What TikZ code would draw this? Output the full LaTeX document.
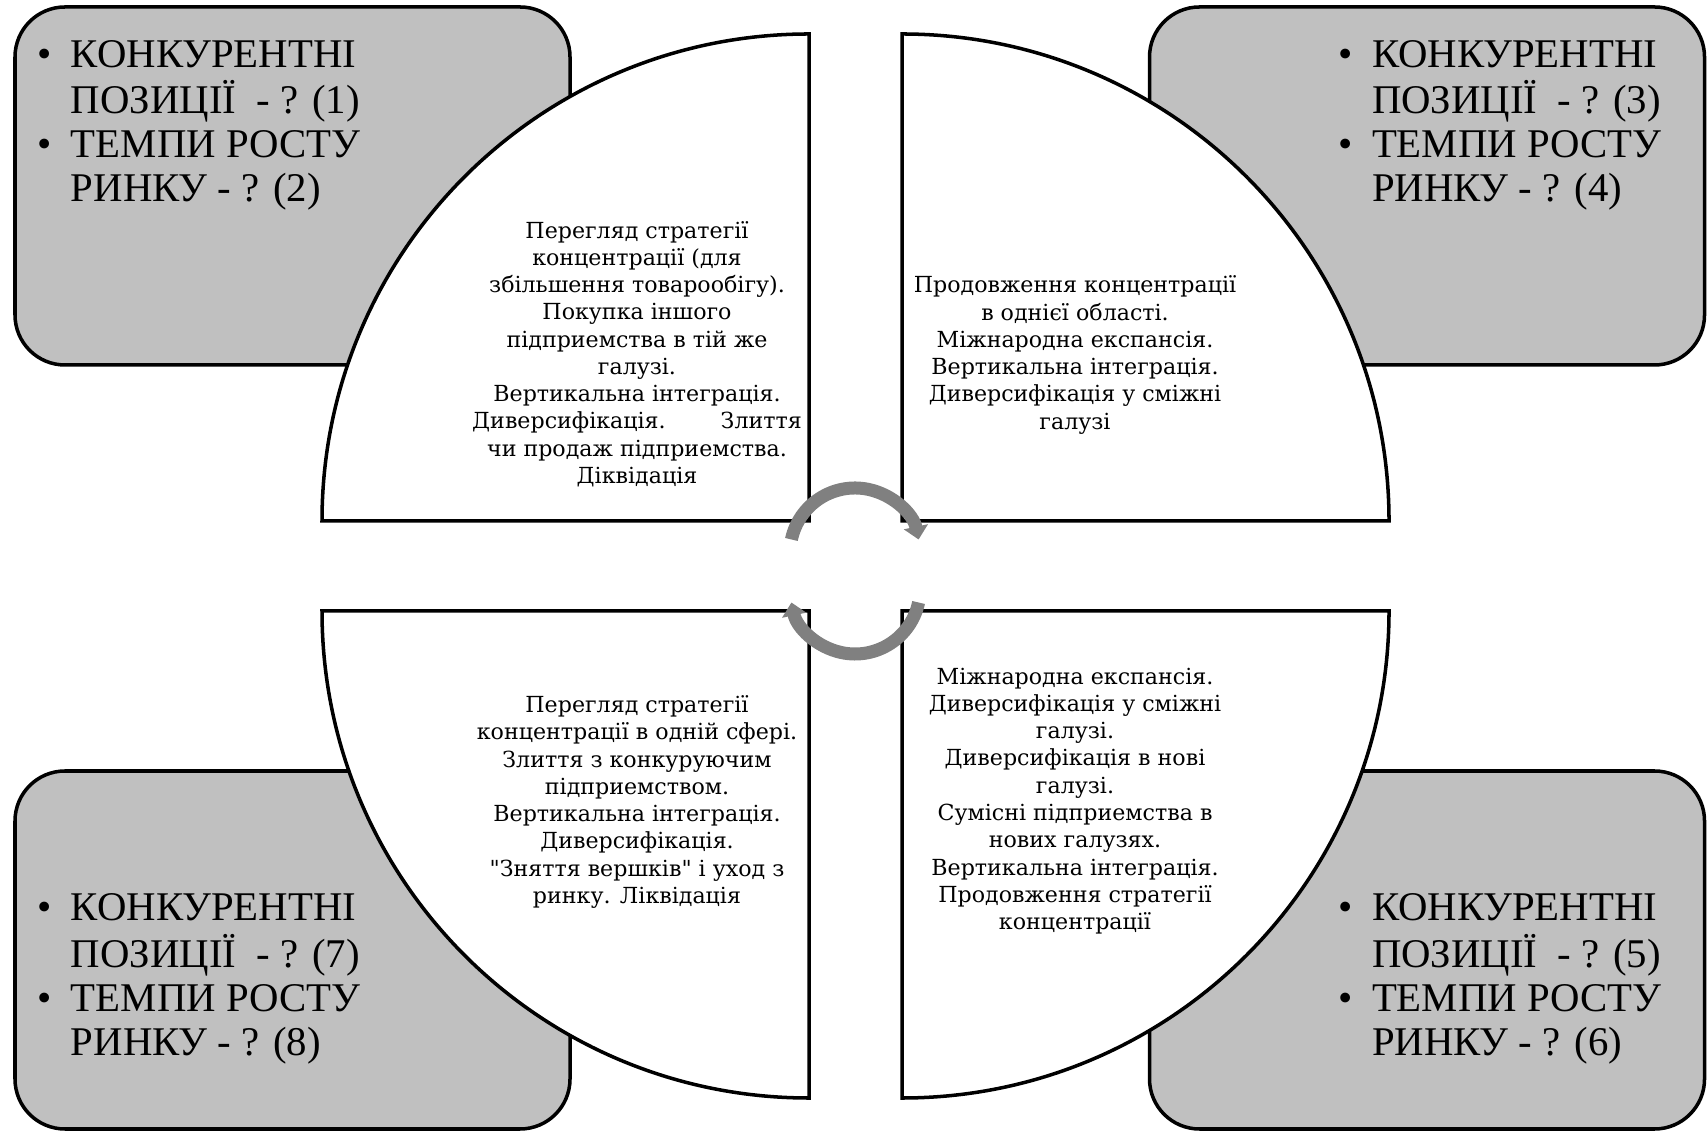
\documentclass[tikz,border=0pt]{standalone}
\usepackage{fontspec}
\setmainfont{Liberation Serif}
\newfontfamily\boxfont{Liberation Serif}
\newfontfamily\cellfont{DejaVu Serif}
\usetikzlibrary{arrows.meta}

\definecolor{boxgray}{RGB}{192,192,192}
\definecolor{arrowgray}{RGB}{128,128,128}

% two bullet lines of a corner box
\newcommand{\qlist}[2]{\begin{tabular}[t]{@{}l@{\hspace{0.19cm}}l@{}}
\textbullet & КОНКУРЕНТНІ\\
 & ПОЗИЦІЇ \ - ? (#1)\\
\textbullet & ТЕМПИ РОСТУ\\
 & РИНКУ - ? (#2)
\end{tabular}}

\tikzset{
  panel/.style={draw=black, line width=1pt, fill=boxgray, rounded corners=0.5cm,
    minimum width=5.55cm, minimum height=3.58cm, inner sep=0pt},
  quest/.style={anchor=base west, inner sep=0pt, font=\boxfont\fontsize{11.6}{12.5}\selectfont},
  cell/.style={draw=black, line width=1pt, fill=white},
  plan/.style={align=center, inner sep=0pt, font=\cellfont\fontsize{6.3}{7.76}\selectfont},
  turn/.style={draw=arrowgray, line width=0.13cm, -{Triangle[width=0.24cm,length=0.13cm]}}
}

\begin{document}
\begin{tikzpicture}
\useasboundingbox (0,0) rectangle (17.07,11.32);

% gray corner boxes
\node[panel] (tlbox) at (2.925,9.46) {};
\node[panel] (trbox) at (14.27,9.46) {};
\node[panel] (blbox) at (2.925,1.82) {};
\node[panel] (brbox) at (14.27,1.82) {};

\node[quest] (tlq) at (0.37,10.645) {\qlist{1}{2}};
\node[quest] (trq) at (13.38,10.645) {\qlist{3}{4}};
\node[quest] (blq) at (0.37,2.11) {\qlist{7}{8}};
\node[quest] (brq) at (13.38,2.11) {\qlist{5}{6}};

% quarter circles
\coordinate (tlc) at (8.09,6.11);
\coordinate (trc) at (9.02,6.11);
\coordinate (blc) at (8.09,5.21);
\coordinate (brc) at (9.02,5.21);

\draw[cell] (tlc) -- ++(-4.87,0) arc (180:90:4.87) -- cycle;
\draw[cell] (trc) -- ++(0,4.87) arc (90:0:4.87) -- cycle;
\draw[cell] (blc) -- ++(-4.87,0) arc (180:270:4.87) -- cycle;
\draw[cell] (brc) -- ++(0,-4.87) arc (270:360:4.87) -- cycle;

\node[plan] (tltext) at (6.37,7.78) {Перегляд стратегії\\
концентрації (для\\
збільшення товарообігу).\\
Покупка іншого\\
підприемства в тій же\\
галузі.\\
Вертикальна інтеграція.\\
Диверсифікація.\hspace{0.55cm}Злиття\\
чи продаж підприемства.\\
Діквідація};

\node[plan] (trtext) at (10.75,7.77) {Продовження концентрації\\
в однієї області.\\
Міжнародна експансія.\\
Вертикальна інтеграція.\\
Диверсифікація у сміжні\\
галузі};

\node[plan] (bltext) at (6.37,3.30) {Перегляд стратегії\\
концентрації в одній сфері.\\
Злиття з конкуруючим\\
підприемством.\\
Вертикальна інтеграція.\\
Диверсифікація.\\
"Зняття вершків" і уход з\\
ринку. Ліквідація};

\node[plan] (brtext) at (10.75,3.31) {Міжнародна експансія.\\
Диверсифікація у сміжні\\
галузі.\\
Диверсифікація в нові\\
галузі.\\
Сумісні підприемства в\\
нових галузях.\\
Вертикальна інтеграція.\\
Продовження стратегії\\
концентрації};

% cycle arrows
\draw[turn] (8.55,5.79) ++(168:0.65) arc (168:12:0.65);
\draw[turn] (8.55,5.43) ++(-12:0.65) arc (-12:-168:0.65);

\end{tikzpicture}
\end{document}
